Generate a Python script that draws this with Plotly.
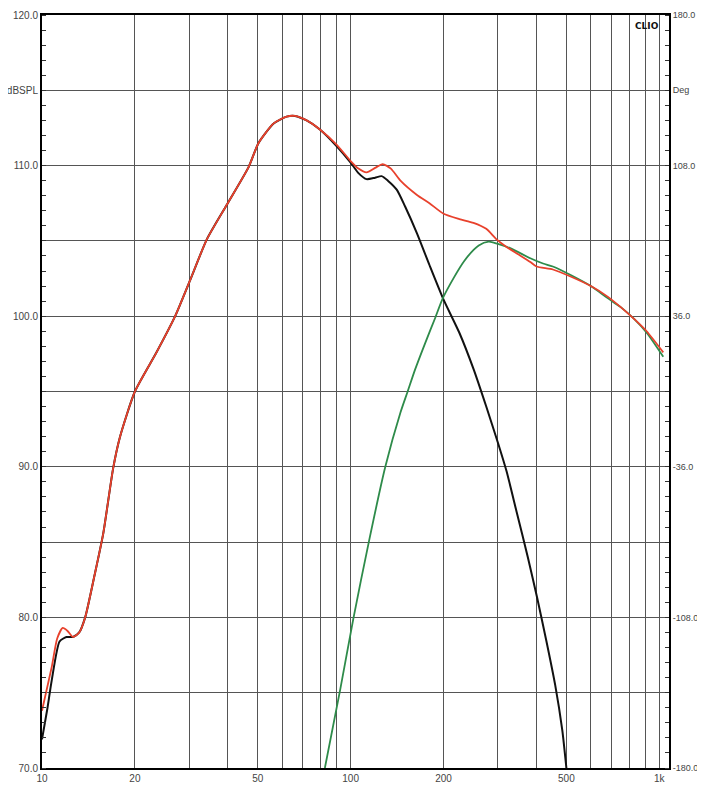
import plotly.graph_objects as go
import math

# Total response (red)
red_f = [10, 10.2, 10.75, 11.2, 11.67, 12.1, 12.6, 13.2, 13.8, 14.8, 15.8, 17.0, 17.9, 20, 23.5, 27, 30.2,
         34.2, 39.7, 46.7, 50.3, 56.3, 62, 66, 72, 79.5, 90, 100, 106, 112.6, 120, 127, 135, 145, 164, 180,
         200, 225, 250, 275, 297, 320, 350, 382, 400, 452, 520, 600, 680, 750, 830, 910, 1030]
red_db = [73.8, 74.6, 76.7, 78.6, 79.3, 79.1, 78.7, 79.0, 80.0, 82.8, 85.6, 89.9, 92.0, 95.0, 97.6, 100.0, 102.4,
          105.1, 107.4, 109.9, 111.5, 112.8, 113.25, 113.3, 113.0, 112.4, 111.4, 110.3, 109.8, 109.55, 109.85, 110.1,
          109.8, 109.0, 108.05, 107.5, 106.8, 106.45, 106.2, 105.8, 105.1, 104.6, 104.1, 103.6, 103.3, 103.1, 102.6,
          102.0, 101.3, 100.6, 99.8, 99.0, 97.6]

# Woofer (black)
blk_f = [10, 10.4, 10.75, 11.4, 12.0, 12.6, 13.2, 13.8, 14.8, 15.8, 17.0, 17.9, 20, 23.5, 27, 30.2,
         34.2, 39.7, 46.7, 50.3, 56.3, 62, 66, 72, 79.5, 90, 100, 106, 112.6, 120, 126, 132, 141, 150,
         164, 180, 200, 225, 250, 275, 300, 320, 345, 375, 402, 430, 460, 485, 500]
blk_db = [71.9, 73.9, 75.8, 78.4, 78.7, 78.7, 79.0, 80.0, 82.8, 85.6, 89.9, 92.0, 95.0, 97.6, 100.0, 102.4,
          105.1, 107.4, 109.9, 111.5, 112.8, 113.25, 113.3, 113.0, 112.4, 111.3, 110.2, 109.5, 109.1, 109.2, 109.3,
          109.0, 108.4, 107.3, 105.5, 103.4, 101.1, 98.9, 96.5, 94.0, 91.6, 89.7, 87.0, 84.0, 81.3, 78.5, 75.5,
          72.5, 70.0]

# Tweeter (green)
grn_f = [82.5, 92.5, 102, 114.5, 129.5, 145, 153, 162, 175, 188, 200, 234, 260, 280, 300, 330, 382, 420, 452,
         520, 600, 680, 750, 830, 910, 1030]
grn_db = [70.0, 75.2, 79.9, 85.0, 90.0, 93.6, 95.0, 96.5, 98.3, 99.9, 101.3, 103.7, 104.7, 104.95, 104.8, 104.5,
          103.85, 103.5, 103.3, 102.7, 102.0, 101.2, 100.6, 99.8, 98.9, 97.3]

x_grid = [10, 20, 30, 40, 50, 60, 70, 80, 90, 100, 200, 300, 400, 500, 600, 700, 800, 900, 1000]
x_labels = {10: "10", 20: "20", 50: "50", 100: "100", 200: "200", 500: "500", 1000: "1k"}
y_grid = [70, 75, 80, 85, 90, 95, 100, 105, 110, 115, 120]
y_labels = {70: "70.0", 80: "80.0", 90: "90.0", 100: "100.0", 110: "110.0", 115: "dBSPL", 120: "120.0"}
y2_vals = [-180, -108, -36, 36, 108, 144, 180]
y2_text = ["-180.0", "-108.0", "-36.0", "36.0", "108.0", "Deg", "180.0"]

fig = go.Figure()
fig.add_trace(go.Scatter(x=[10], y=[0], yaxis="y2", mode="markers", opacity=0,
                         hoverinfo="skip", showlegend=False))
fig.add_trace(go.Scatter(x=blk_f, y=blk_db, mode="lines",
                         line=dict(color="#111111", width=2, shape="spline", smoothing=0.6),
                         showlegend=False))
fig.add_trace(go.Scatter(x=grn_f, y=grn_db, mode="lines",
                         line=dict(color="#2e8b4a", width=1.8, shape="spline", smoothing=0.8),
                         showlegend=False))
fig.add_trace(go.Scatter(x=red_f, y=red_db, mode="lines",
                         line=dict(color="#e8412c", width=1.8, shape="spline", smoothing=0.6),
                         showlegend=False))

tickfont = dict(family="Liberation Sans, Arial, sans-serif", size=10, color="#444444")
tickfont_r = dict(family="Liberation Sans, Arial, sans-serif", size=9, color="#444444")

fig.update_layout(
    width=697, height=779,
    margin=dict(l=34, r=36, t=7, b=19),
    paper_bgcolor="white", plot_bgcolor="white",
    xaxis=dict(type="log", range=[1, math.log10(1075)], automargin=False,
               tickmode="array", tickvals=x_grid,
               ticktext=[x_labels.get(v, "") for v in x_grid],
               showgrid=True, gridcolor="#555555", gridwidth=1,
               showline=True, linecolor="black", linewidth=2, mirror=True,
               ticks="", tickfont=tickfont, zeroline=False),
    yaxis=dict(range=[70, 120], automargin=False, tickmode="array", tickvals=y_grid,
               ticktext=[y_labels.get(v, "") for v in y_grid],
               showgrid=True, gridcolor="#555555", gridwidth=1,
               showline=True, linecolor="black", linewidth=2,
               ticks="", tickfont=tickfont, zeroline=False,
               minor=dict(tickmode="linear", tick0=70, dtick=1, ticks="inside", ticklen=4,
                          tickcolor="#333333", showgrid=False)),
    yaxis2=dict(range=[-180, 180], automargin=False, overlaying="y", side="right",
                tickmode="array", tickvals=y2_vals, ticktext=y2_text,
                showgrid=False, showline=True, linecolor="black", linewidth=2,
                ticks="", tickfont=tickfont_r, zeroline=False,
                minor=dict(tickmode="linear", tick0=-180, dtick=7.2, ticks="inside", ticklen=4,
                           tickcolor="#333333", showgrid=False)),
    annotations=[dict(text="<b>CLIO</b>", xref="paper", yref="paper", x=0.965, y=0.995,
                      xanchor="center", yanchor="top", showarrow=False,
                      font=dict(family="DejaVu Sans, sans-serif", size=9, color="#111111"))],
)

fig.write_html("out.html")
